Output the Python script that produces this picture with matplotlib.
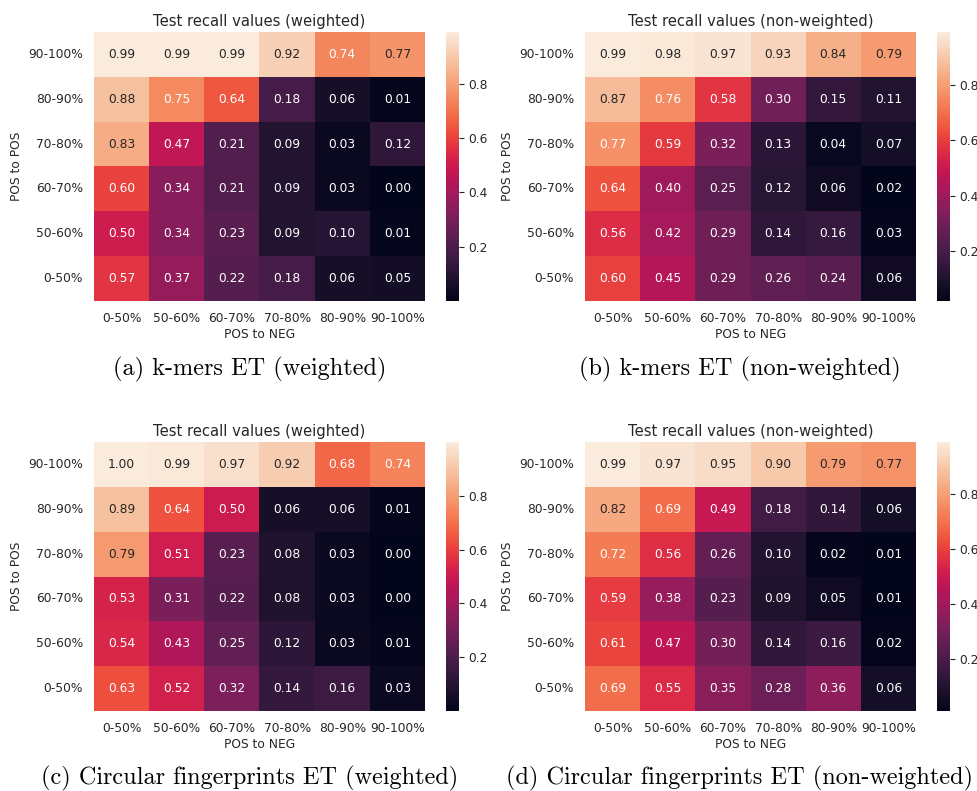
import numpy as np
import matplotlib
matplotlib.use("Agg")
import matplotlib.pyplot as plt
import seaborn as sns

# row labels from top to bottom, column labels left to right
pos_to_pos = ["90-100%", "80-90%", "70-80%", "60-70%", "50-60%", "0-50%"]
pos_to_neg = ["0-50%", "50-60%", "60-70%", "70-80%", "80-90%", "90-100%"]

kmers_weighted = [
    [0.99, 0.99, 0.99, 0.92, 0.74, 0.77],
    [0.88, 0.75, 0.64, 0.18, 0.06, 0.01],
    [0.83, 0.47, 0.21, 0.09, 0.03, 0.12],
    [0.60, 0.34, 0.21, 0.09, 0.03, 0.00],
    [0.50, 0.34, 0.23, 0.09, 0.10, 0.01],
    [0.57, 0.37, 0.22, 0.18, 0.06, 0.05],
]
kmers_nonweighted = [
    [0.99, 0.98, 0.97, 0.93, 0.84, 0.79],
    [0.87, 0.76, 0.58, 0.30, 0.15, 0.11],
    [0.77, 0.59, 0.32, 0.13, 0.04, 0.07],
    [0.64, 0.40, 0.25, 0.12, 0.06, 0.02],
    [0.56, 0.42, 0.29, 0.14, 0.16, 0.03],
    [0.60, 0.45, 0.29, 0.26, 0.24, 0.06],
]
circular_weighted = [
    [1.00, 0.99, 0.97, 0.92, 0.68, 0.74],
    [0.89, 0.64, 0.50, 0.06, 0.06, 0.01],
    [0.79, 0.51, 0.23, 0.08, 0.03, 0.00],
    [0.53, 0.31, 0.22, 0.08, 0.03, 0.00],
    [0.54, 0.43, 0.25, 0.12, 0.03, 0.01],
    [0.63, 0.52, 0.32, 0.14, 0.16, 0.03],
]
circular_nonweighted = [
    [0.99, 0.97, 0.95, 0.90, 0.79, 0.77],
    [0.82, 0.69, 0.49, 0.18, 0.14, 0.06],
    [0.72, 0.56, 0.26, 0.10, 0.02, 0.01],
    [0.59, 0.38, 0.23, 0.09, 0.05, 0.01],
    [0.61, 0.47, 0.30, 0.14, 0.16, 0.02],
    [0.69, 0.55, 0.35, 0.28, 0.36, 0.06],
]

titles = ["Test recall values (weighted)", "Test recall values (non-weighted)",
          "Test recall values (weighted)", "Test recall values (non-weighted)"]
captions = ["(a) k-mers ET (weighted)", "(b) k-mers ET (non-weighted)",
            "(c) Circular fingerprints ET (weighted)", "(d) Circular fingerprints ET (non-weighted)"]
panels = [kmers_weighted, kmers_nonweighted, circular_weighted, circular_nonweighted]

W, H = 978, 791
plt.rcParams["text.color"] = "#262626"
plt.rcParams["xtick.color"] = "#262626"
plt.rcParams["ytick.color"] = "#262626"
plt.rcParams["axes.labelcolor"] = "#262626"

fig = plt.figure(figsize=(W / 100, H / 100), dpi=100)

# pixel boxes: (left, top) of heatmap, caption centre
lefts = [94, 585, 94, 585]
tops = [32, 32, 442, 442]
cap_x = [250, 740, 250, 740]
cap_y = [369, 369, 778, 778]
hm_w, hm_h = 331, 269

for i, data in enumerate(panels):
    l, t = lefts[i], tops[i]
    ax = fig.add_axes([l / W, 1 - (t + hm_h) / H, hm_w / W, hm_h / H])
    cax = fig.add_axes([(l + 352) / W, 1 - (t + hm_h) / H, 13 / W, hm_h / H])
    sns.heatmap(np.array(data), ax=ax, cbar_ax=cax, annot=True, fmt=".2f",
                annot_kws={"size": 8.8}, xticklabels=pos_to_neg, yticklabels=pos_to_pos)
    ax.set_title(titles[i], fontsize=10.6, pad=4)
    ax.set_xlabel("POS to NEG", fontsize=8.8, labelpad=2)
    ax.set_ylabel("POS to POS", fontsize=8.8)
    ax.tick_params(axis="both", length=0, pad=8, labelsize=8.8)
    plt.setp(ax.get_yticklabels(), rotation=0)
    plt.setp(ax.get_xticklabels(), rotation=0)
    cax.tick_params(labelsize=8.8, length=3.5, color="#262626")
    cax.yaxis.set_ticks([0.2, 0.4, 0.6, 0.8])
    fig.text(cap_x[i] / W, 1 - cap_y[i] / H, captions[i], family="cmr10",
             fontsize=17.5, ha="center", va="center", color="black")

fig.savefig("out.png", dpi=100)
